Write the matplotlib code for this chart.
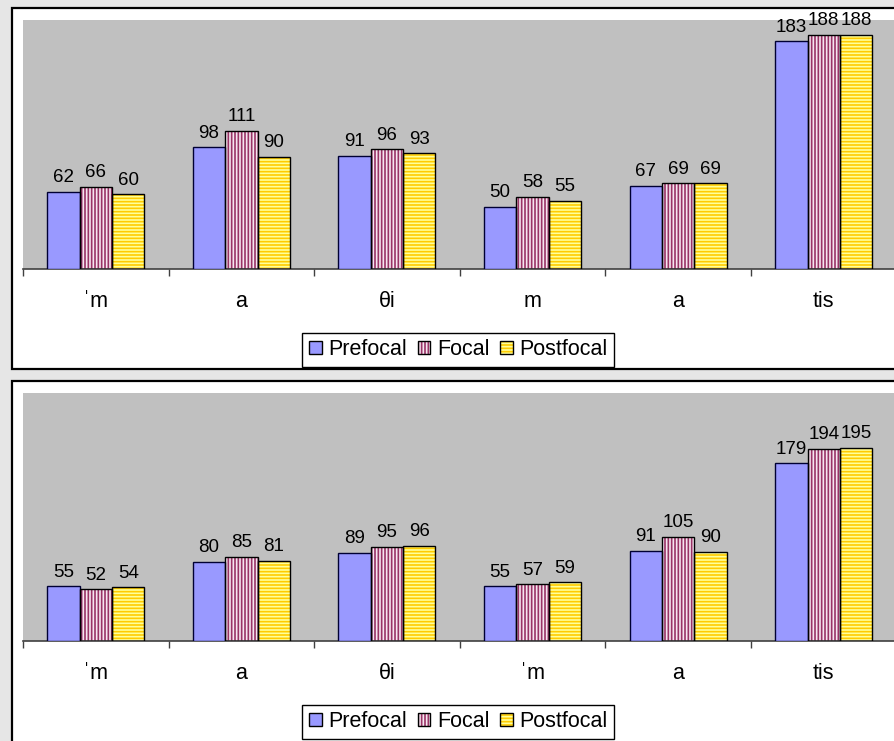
import numpy as np
import matplotlib.pyplot as plt
from matplotlib.patches import Rectangle, Patch

plt.rcParams['font.family'] = ['Liberation Sans', 'DejaVu Sans']
plt.rcParams['hatch.linewidth'] = 1.2

series = ["Prefocal", "Focal", "Postfocal"]

labels_top = ["ˈm", "a", "θi", "m", "a", "tis"]
prefocal_top = [62, 98, 91, 50, 67, 183]
focal_top = [66, 111, 96, 58, 69, 188]
postfocal_top = [60, 90, 93, 55, 69, 188]

labels_bottom = ["ˈm", "a", "θi", "ˈm", "a", "tis"]
prefocal_bottom = [55, 80, 89, 55, 91, 179]
focal_bottom = [52, 85, 95, 57, 105, 194]
postfocal_bottom = [54, 81, 96, 59, 90, 195]

# face colour, hatch, hatch colour
styles = [
    ("#9999ff", None, None),
    ("#f6e6f0", "|||||", "#993366"),
    ("#ffff99", "-----", "#ffcc00"),
]

fig = plt.figure(figsize=(8.95, 7.41), dpi=100)
fig.patch.set_facecolor("#e6e6e6")

# white chart boxes behind the axes
for y0, h in [(0.502, 0.487), (-0.1, 0.586)]:
    fig.patches.append(Rectangle((0.0134, y0), 1.1, h, transform=fig.transFigure,
                                 facecolor="white", edgecolor="black", lw=1.6,
                                 zorder=-1))


def draw_chart(ax, cats, values, ymax):
    x = np.arange(len(cats))
    w = 1 / 4.5
    for i, (vals, (fc, hatch, hc)) in enumerate(zip(values, styles)):
        pos = x + (i - 1) * w
        if hatch:
            ax.bar(pos, vals, w, color=fc, hatch=hatch, edgecolor=hc, lw=0, zorder=2)
            ax.bar(pos, vals, w, fill=False, edgecolor="black", lw=1, zorder=3)
        else:
            ax.bar(pos, vals, w, color=fc, edgecolor="#000033", lw=1, zorder=3)
        for p, v in zip(pos, vals):
            ax.text(p, v + ymax * 0.022, str(v), ha="center", va="bottom",
                    fontsize=13.5, color="black")
    ax.set_facecolor("#c0c0c0")
    ax.set_xlim(-0.5, len(cats) - 0.5)
    ax.set_ylim(0, ymax)
    ax.set_yticks([])
    ax.set_xticks(np.arange(len(cats) + 1) - 0.5)
    ax.set_xticklabels([])
    ax.set_xticks(x, minor=True)
    ax.set_xticklabels(cats, minor=True, fontsize=15.5)
    ax.tick_params(axis="x", which="major", length=5, width=1, color="#404040")
    ax.tick_params(axis="x", which="minor", length=0, pad=16)
    for s in ["top", "left", "right"]:
        ax.spines[s].set_visible(False)
    ax.spines["bottom"].set_color("#404040")
    ax.spines["bottom"].set_linewidth(1.2)


def legend_handles():
    hs = []
    for fc, hatch, hc in styles:
        if hatch:
            hs.append((Patch(facecolor=fc, hatch=hatch, edgecolor=hc, lw=0),
                       Patch(fill=False, edgecolor="black", lw=1)))
        else:
            hs.append(Patch(facecolor=fc, edgecolor="black", lw=1))
    return hs


ax1 = fig.add_axes([0.0257, 0.637, 0.976, 0.336])
draw_chart(ax1, labels_top, [prefocal_top, focal_top, postfocal_top], 200)

ax2 = fig.add_axes([0.0257, 0.135, 0.976, 0.3346])
draw_chart(ax2, labels_bottom, [prefocal_bottom, focal_bottom, postfocal_bottom], 250)

for yc in [0.528, 0.026]:
    leg = fig.legend(legend_handles(), series, loc="center",
                     bbox_to_anchor=(0.512, yc), ncol=3, fontsize=15.5,
                     handlelength=0.6, handleheight=0.6, handletextpad=0.3,
                     columnspacing=0.5, borderpad=0.3, fancybox=False,
                     framealpha=1, edgecolor="black")
    leg.get_frame().set_linewidth(1)

fig.savefig("out.png", dpi=100, facecolor=fig.get_facecolor())
